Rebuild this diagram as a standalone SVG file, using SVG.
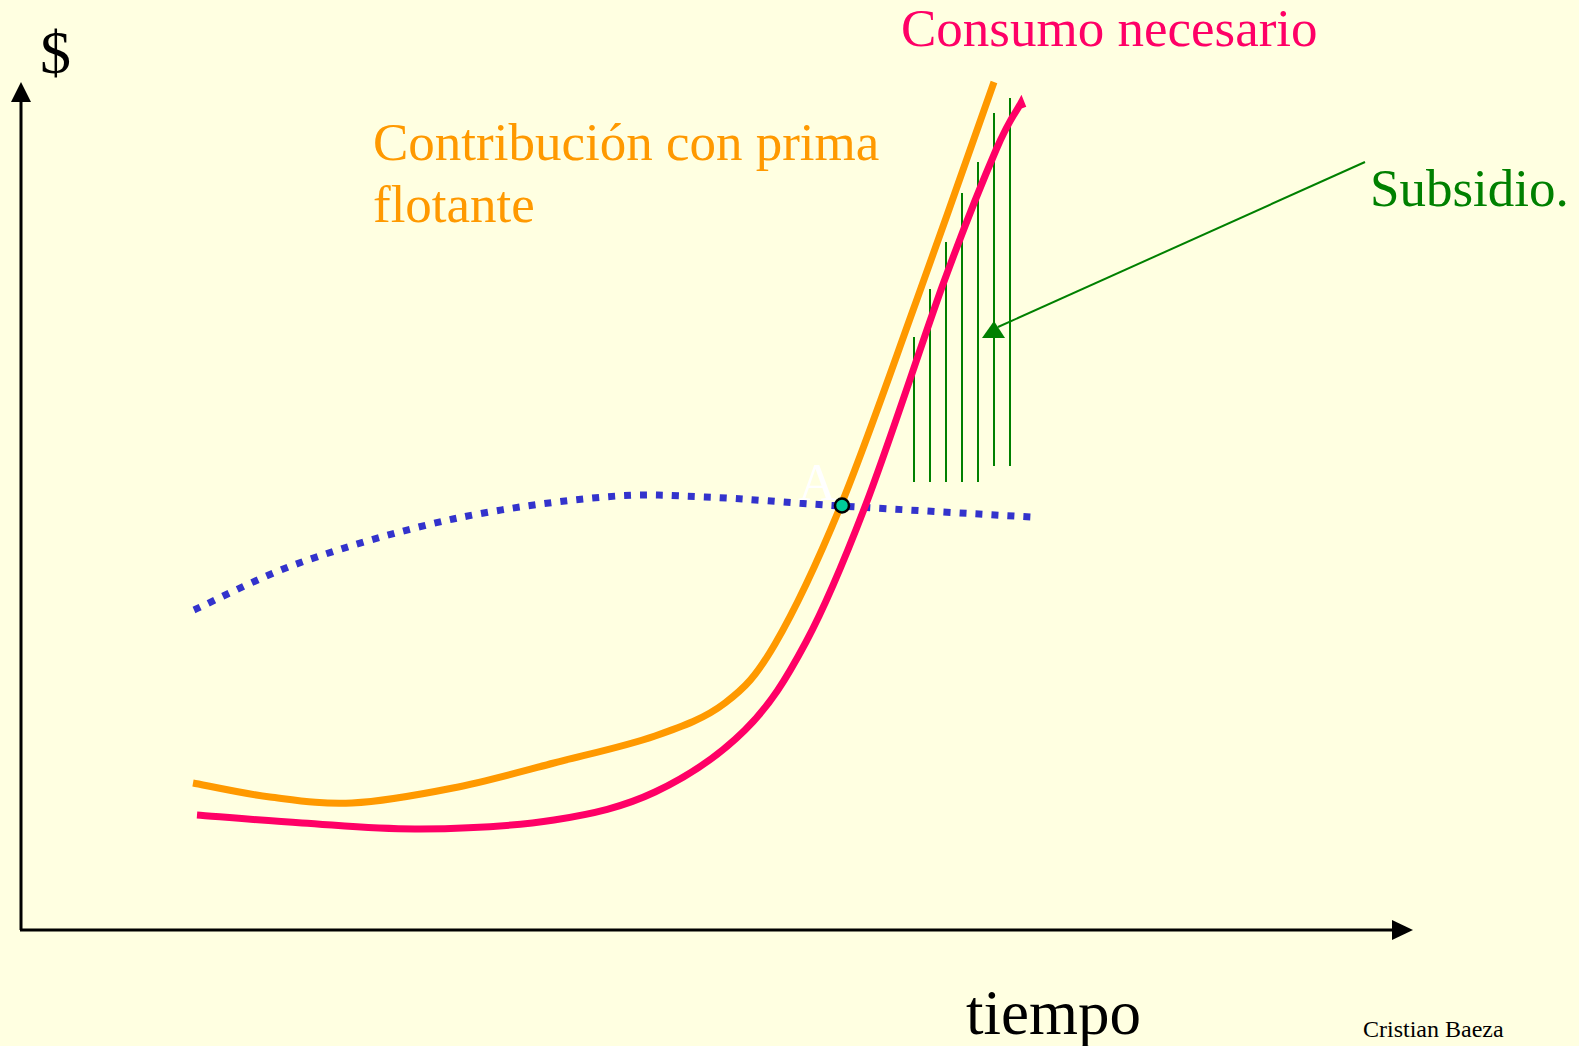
<svg xmlns="http://www.w3.org/2000/svg" width="1579" height="1046" viewBox="0 0 1579 1046">
<style>
.t{font-family:"Liberation Serif","Times New Roman",serif}
.ax{stroke:#000;stroke-width:3;fill:none}
.hatch{stroke:#008000;stroke-width:2}
.curve{fill:none;stroke-width:7}
</style>
<rect width="1579" height="1046" fill="#FFFFE1"/>
<g id="axes">
<line class="ax" x1="21" y1="930" x2="21" y2="100"/>
<line class="ax" x1="20" y1="930" x2="1395" y2="930"/>
<polygon points="21,82 11,102 31,102" fill="#000"/>
<polygon points="1413,930 1392,920 1392,940" fill="#000"/>
</g>
<g id="subsidy-hatch">
<line class="hatch" x1="914" y1="337" x2="914" y2="482"/>
<line class="hatch" x1="930" y1="289" x2="930" y2="482"/>
<line class="hatch" x1="946" y1="242" x2="946" y2="482"/>
<line class="hatch" x1="962" y1="193" x2="962" y2="482"/>
<line class="hatch" x1="978" y1="162" x2="978" y2="482"/>
<line class="hatch" x1="994" y1="113" x2="994" y2="466"/>
<line class="hatch" x1="1010" y1="98" x2="1010" y2="466"/>
</g>
<g id="blue-curve">
<path d="M194,610 C212,602 258.8,577.2 302,562 C345.2,546.8 402.7,529.8 453,519 C503.3,508.2 562,500.7 604,497 C646,493.3 665.5,495.5 705,497 C744.5,498.5 786.7,502.7 841,506 C895.3,509.3 999.3,515.2 1031,517" fill="none" stroke="#3333CC" stroke-width="7" stroke-dasharray="7 9"/>
</g>
<g id="orange-curve">
<path class="curve" stroke="#FF9900" d="M193,783 C205.8,785.3 243.5,793.7 270,797 C296.5,800.3 321.5,804.5 352,803 C382.5,801.5 419.3,794.7 453,788 C486.7,781.3 520.3,771.7 554,763 C587.7,754.3 626.5,746 655,736 C683.5,726 705,718.3 725,703 C745,687.7 755.7,677 775,644 C794.3,611 817.5,562 841,505 C864.5,448 890.5,372.5 916,302 C941.5,231.5 981,118.7 994,82"/>
</g>
<g id="pink-curve">
<path class="curve" stroke="#FF0066" d="M197,815 C214.5,816.3 264.8,820.7 302,823 C339.2,825.3 378,829.5 420,829 C462,828.5 514.8,826.2 554,820 C593.2,813.8 623.2,807 655,792 C686.8,777 719.8,755 745,730 C770.2,705 785.8,679.7 806,642 C826.2,604.3 843.3,563.2 866,504 C888.7,444.8 920.2,347.5 942,287 C963.7,228 982.8,180.7 996,150 C1009.2,119.3 1016.8,110.8 1021,103 L1023,108"/>
</g>
<g id="point-A">
<text class="t" x="798" y="500" font-size="53" fill="#FFFFFF">A</text>
<circle cx="842" cy="505.5" r="7" fill="#00CC99" stroke="#000" stroke-width="2.5"/>
</g>
<g id="connectors">
<line x1="1365" y1="162" x2="998" y2="327" stroke="#008000" stroke-width="2"/>
<polygon points="994,321 982,338 1005,338" fill="#008000"/>
</g>
<g id="labels">
<text class="t" x="40" y="73" font-size="62" fill="#000">$</text>
<text class="t" x="901" y="46" font-size="53" fill="#FF0066">Consumo necesario</text>
<text class="t" x="373" y="160" font-size="53" fill="#FF9900">Contribución con prima</text>
<text class="t" x="373" y="222" font-size="53" fill="#FF9900">flotante</text>
<text class="t" x="1370" y="206" font-size="53" fill="#008000">Subsidio.</text>
<text class="t" x="966" y="1034" font-size="63" fill="#000">tiempo</text>
<text class="t" x="1363" y="1037" font-size="24" fill="#000">Cristian Baeza</text>
</g>
</svg>
